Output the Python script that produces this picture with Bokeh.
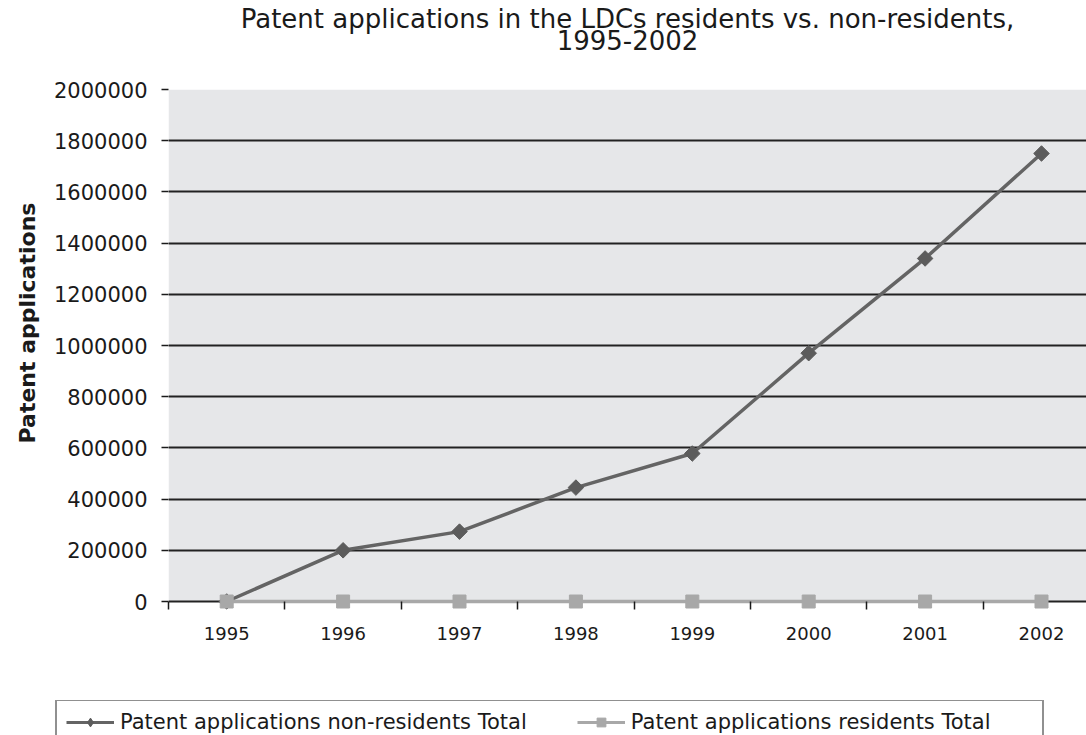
from bokeh.plotting import figure
from bokeh.layouts import column
from bokeh.models import (Range1d, FixedTicker, BasicTickFormatter, BoxAnnotation,
                          Legend, LegendItem, Title, Label)
from bokeh.embed import file_html
from bokeh.resources import INLINE
import math

# ---- data ----
years = [1995, 1996, 1997, 1998, 1999, 2000, 2001, 2002]
non_residents = [0, 200000, 273000, 445000, 578000, 970000, 1340000, 1750000]
residents = [0, 0, 0, 0, 0, 0, 0, 0]
y_ticks = [0, 200000, 400000, 600000, 800000, 1000000, 1200000, 1400000,
           1600000, 1800000, 2000000]
title_lines = ["Patent applications in the LDCs residents vs. non-residents,", "1995-2002"]
y_label = "Patent applications"
series_names = ["Patent applications non-residents Total", "Patent applications residents Total"]

FONT = "DejaVu Sans"
TEXT = "#1a1a1a"
NR_COLOR = "#646464"
NR_MARK = "#5c5c5c"
R_COLOR = "#a8a8a8"
W = 1086
Y_MAX = 2000000
PX_PER_VAL = 512 / Y_MAX

# ---------- title strip ----------
tf = figure(width=W, height=60, output_backend="svg", toolbar_location=None,
            x_axis_type=None, y_axis_type=None, min_border=0, frame_align=False,
            x_range=Range1d(0, 1), y_range=Range1d(0, 1),
            outline_line_color=None, background_fill_color="white",
            border_fill_color="white")
tf.grid.visible = False
for txt, cy in zip(title_lines, [18, 39]):
    tf.add_layout(Label(x=627, y=60 - cy, x_units="screen", y_units="screen", text=txt,
                        text_align="center", text_baseline="middle", text_font=FONT,
                        text_font_size="26px", text_color=TEXT))

# ---------- main chart ----------
p = figure(width=W, height=640, output_backend="svg", toolbar_location=None,
           x_range=Range1d(years[0] - 0.5, years[0] - 0.5 + 918 / 116.4),
           y_range=Range1d(-8 / PX_PER_VAL, Y_MAX), frame_align=False,
           min_border_left=168, min_border_right=0, min_border_top=29,
           min_border_bottom=91, background_fill_color="white",
           border_fill_color="white", outline_line_color=None)
p.title.visible = False

p.add_layout(BoxAnnotation(bottom=0, top=Y_MAX, fill_color="#e6e7e9", fill_alpha=1,
                           line_color=None, level="image"))

p.yaxis.ticker = FixedTicker(ticks=y_ticks)
p.yaxis.formatter = BasicTickFormatter(use_scientific=False)
p.yaxis.axis_line_color = None
p.yaxis.major_tick_out = 7
p.yaxis.major_tick_in = 0
p.yaxis.major_tick_line_color = TEXT
p.yaxis.major_tick_line_width = 1.5
p.yaxis.minor_tick_line_color = None
p.yaxis.major_label_standoff = 14
p.yaxis.major_label_text_font = FONT
p.yaxis.major_label_text_font_size = "21px"
p.yaxis.major_label_text_color = TEXT

p.add_layout(Title(text=y_label, align="left", text_font=FONT, text_font_size="22px",
                   text_font_style="bold", text_color=TEXT, offset=166,
                   standoff=22), "left")

half_years = [y - 0.5 for y in years] + [years[-1] + 0.5]
p.xaxis.ticker = FixedTicker(ticks=years, minor_ticks=half_years)
p.xaxis.formatter = BasicTickFormatter(use_scientific=False)
p.xaxis.axis_line_color = None
p.xaxis.major_tick_in = 0
p.xaxis.major_tick_out = 0
p.xaxis.minor_tick_in = 8
p.xaxis.minor_tick_out = 0
p.xaxis.minor_tick_line_color = TEXT
p.xaxis.minor_tick_line_width = 1.5
p.xaxis.major_label_standoff = 17
p.xaxis.major_label_text_font = FONT
p.xaxis.major_label_text_font_size = "18px"
p.xaxis.major_label_text_color = TEXT

p.ygrid.ticker = FixedTicker(ticks=y_ticks)
p.ygrid.grid_line_color = "#222222"
p.ygrid.grid_line_width = 2
p.xgrid.ticker = FixedTicker(ticks=[years[0] - 0.5])
p.xgrid.bounds = (0, Y_MAX)
p.xgrid.grid_line_color = "#222222"
p.xgrid.grid_line_width = 2

p.line(years, non_residents, line_color=NR_COLOR, line_width=3.5)
p.scatter(years, non_residents, marker="square", angle=math.pi / 4, size=11,
          fill_color=NR_MARK, line_color=NR_MARK)
p.line(years, residents, line_color=R_COLOR, line_width=3.5)
p.scatter(years, residents, marker="square", size=13, fill_color=R_COLOR,
          line_color=R_COLOR)

# ---------- legend strip (its ranges keep the proxy series out of view) ----------
lf = figure(width=W, height=35, output_backend="svg", toolbar_location=None,
            x_axis_type=None, y_axis_type=None, min_border=0, frame_align=False,
            x_range=Range1d(0, 1), y_range=Range1d(0, 1),
            outline_line_color=None, background_fill_color="white",
            border_fill_color="white")
lf.grid.visible = False
l1 = lf.line(years, non_residents, line_color=NR_COLOR, line_width=3)
m1 = lf.scatter(years, non_residents, marker="diamond", size=13, fill_color=NR_MARK,
                line_color=NR_MARK)
l2 = lf.line(years, residents, line_color=R_COLOR, line_width=3)
m2 = lf.scatter(years, residents, marker="square", size=9, fill_color=R_COLOR,
                line_color=R_COLOR)

legend = Legend(items=[LegendItem(label=series_names[0], renderers=[l1, m1]),
                       LegendItem(label=series_names[1], renderers=[l2, m2])],
                orientation="horizontal", location=(55, -10), padding=9, spacing=50,
                glyph_width=48, glyph_height=22, label_height=22, label_width=402,
                label_standoff=6, label_text_font=FONT, label_text_font_size="21px",
                label_text_color=TEXT, border_line_color="#222222",
                border_line_width=2, background_fill_color="white",
                background_fill_alpha=1, margin=0)
lf.add_layout(legend)

layout = column(tf, p, lf, spacing=0)
open("out.html", "w").write(file_html(layout, INLINE))
